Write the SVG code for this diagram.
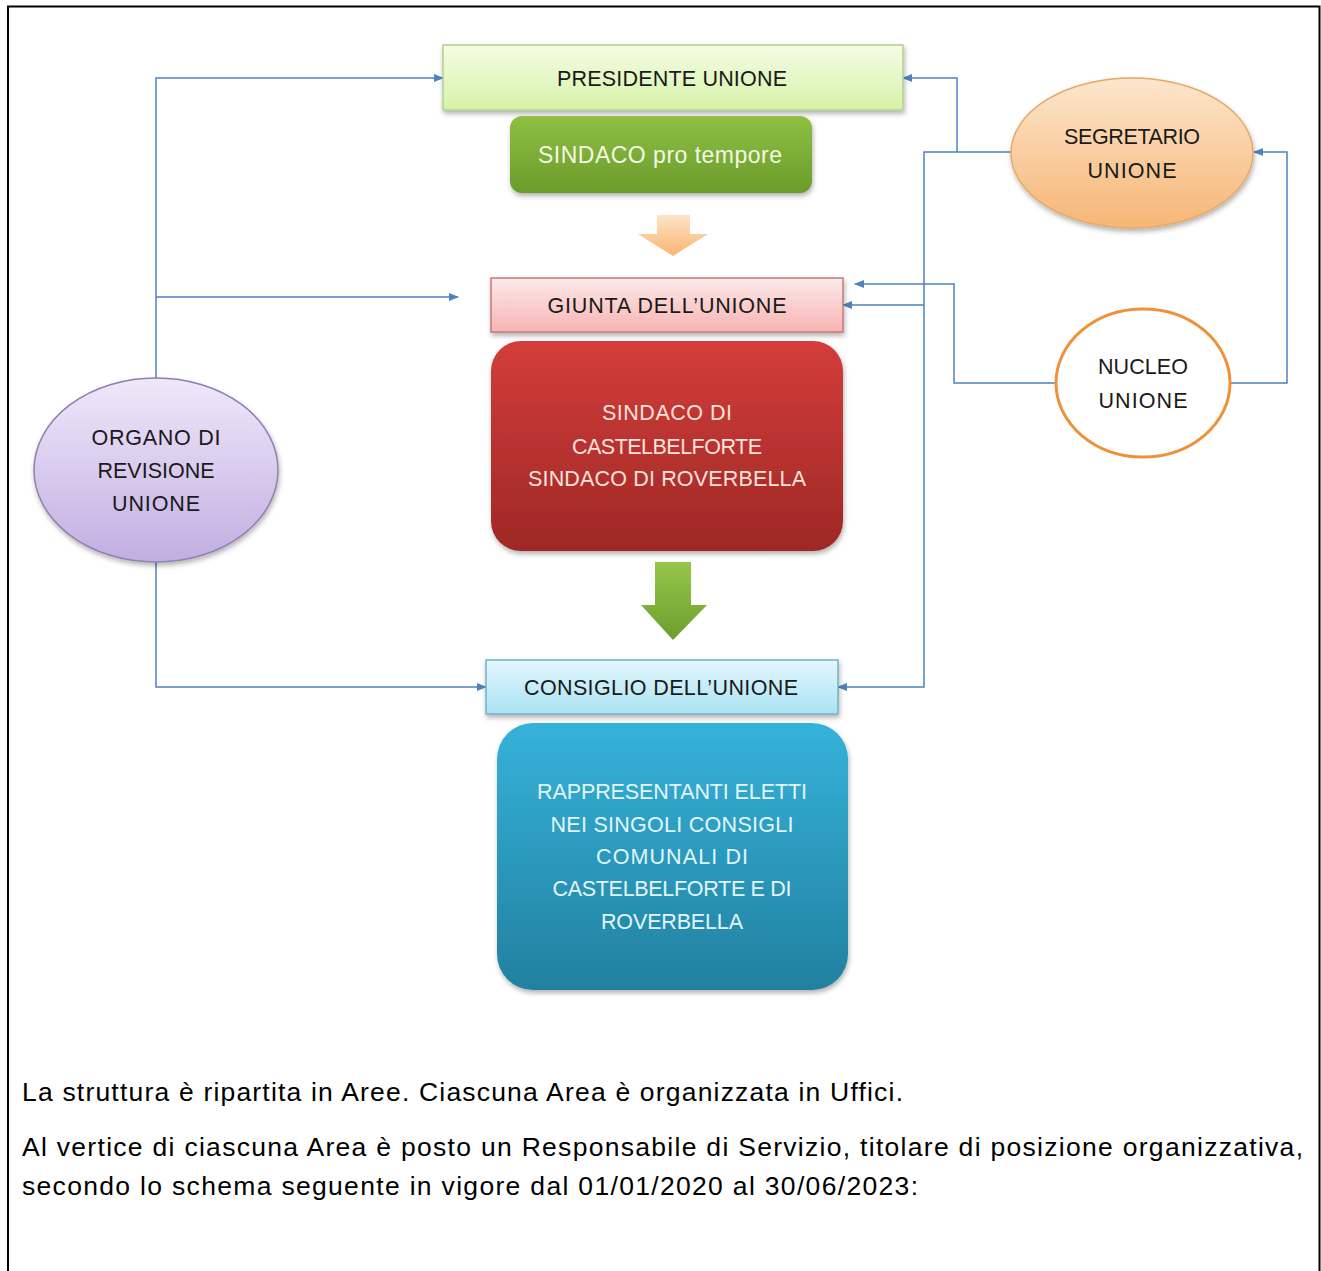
<svg xmlns="http://www.w3.org/2000/svg" width="1321" height="1271" viewBox="0 0 1321 1271">
<defs>
<style>
.t{font-family:"Liberation Sans",Arial,sans-serif;font-size:21.5px;text-anchor:middle}
.dk{fill:#1a1a1a}
.p{font-family:"Liberation Sans",Arial,sans-serif;font-size:26.5px;fill:#000}
.c{fill:none;stroke:#4f81bd;stroke-width:1.5;marker-end:url(#arr)}
</style>
<marker id="arr" markerWidth="10" markerHeight="8" refX="9" refY="4" orient="auto" markerUnits="userSpaceOnUse"><path d="M0,0 L10,4 L0,8 z" fill="#4f81bd"/></marker>
<filter id="sh" x="-10%" y="-10%" width="125%" height="135%"><feDropShadow dx="1" dy="3" stdDeviation="2.5" flood-color="#000" flood-opacity="0.3"/></filter>
<linearGradient id="gPres" x1="0" y1="0" x2="0" y2="1"><stop offset="0" stop-color="#f5fde6"/><stop offset="1" stop-color="#d6f2a8"/></linearGradient>
<linearGradient id="gSind" x1="0" y1="0" x2="0" y2="1"><stop offset="0" stop-color="#8fc043"/><stop offset="1" stop-color="#6b9b2b"/></linearGradient>
<linearGradient id="gOr" x1="0" y1="0" x2="0" y2="1"><stop offset="0" stop-color="#fde4c8"/><stop offset="1" stop-color="#fbb470"/></linearGradient>
<linearGradient id="gGiu" x1="0" y1="0" x2="0" y2="1"><stop offset="0" stop-color="#fdeaea"/><stop offset="1" stop-color="#f6b4b2"/></linearGradient>
<linearGradient id="gRed" x1="0" y1="0" x2="0" y2="1"><stop offset="0" stop-color="#d33d3a"/><stop offset="1" stop-color="#9e2826"/></linearGradient>
<linearGradient id="gGr" x1="0" y1="0" x2="0" y2="1"><stop offset="0" stop-color="#98c64a"/><stop offset="1" stop-color="#6d9d2e"/></linearGradient>
<linearGradient id="gCon" x1="0" y1="0" x2="0" y2="1"><stop offset="0" stop-color="#e4f7fd"/><stop offset="1" stop-color="#a9e3f4"/></linearGradient>
<linearGradient id="gBlu" x1="0" y1="0" x2="0" y2="1"><stop offset="0" stop-color="#35b2da"/><stop offset="1" stop-color="#22809f"/></linearGradient>
<linearGradient id="gSeg" x1="0" y1="0" x2="0" y2="1"><stop offset="0" stop-color="#fde6cc"/><stop offset="1" stop-color="#f6b676"/></linearGradient>
<linearGradient id="gOrg" x1="0" y1="0" x2="0" y2="1"><stop offset="0" stop-color="#f0e8fa"/><stop offset="1" stop-color="#c2aee2"/></linearGradient>
</defs>
<rect width="1321" height="1271" fill="#fff"/>
<path d="M8,1271 V6.5 H1319.5 V1271" fill="none" stroke="#000" stroke-width="2"/>

<g id="connectors">
<path class="c" d="M156,378 V78 H443"/>
<path class="c" d="M156,297 H458"/>
<path class="c" d="M156,562 V687 H486"/>
<path class="c" d="M1012,152 H924 V687 H838"/>
<path class="c" d="M957,152 V78 H903"/>
<path class="c" d="M924,305 H843"/>
<path class="c" d="M1055,383 H954 V284 H855"/>
<path class="c" d="M1231,383 H1287 V152 H1254"/>
</g>

<g id="presidente">
<rect x="443" y="45" width="460" height="65" fill="url(#gPres)" stroke="#b5cf8c" stroke-width="1.5" filter="url(#sh)"/>
<text class="t dk" x="672" y="86" textLength="230">PRESIDENTE UNIONE</text>
</g>
<g id="sindaco-pro-tempore">
<rect x="510" y="116" width="302" height="77" rx="12" fill="url(#gSind)" filter="url(#sh)"/>
<text class="t" x="660" y="163" fill="#f2f9e4" style="font-size:23px" textLength="244">SINDACO pro tempore</text>
</g>
<g id="freccia-arancio">
<polygon points="657,215 690,215 690,234 708,234 673,256 638,234 657,234" fill="url(#gOr)"/>
</g>
<g id="giunta">
<rect x="491" y="278" width="352" height="54" fill="url(#gGiu)" stroke="#c47a78" stroke-width="1.5" filter="url(#sh)"/>
<text class="t dk" x="667" y="313" textLength="239">GIUNTA DELL’UNIONE</text>
</g>
<g id="sindaci">
<rect x="491" y="341" width="352" height="210" rx="30" fill="url(#gRed)" filter="url(#sh)"/>
<text class="t" x="667" y="420" fill="#fde2da" textLength="130">SINDACO DI</text>
<text class="t" x="667" y="454" fill="#fde2da" textLength="190">CASTELBELFORTE</text>
<text class="t" x="667" y="486" fill="#fde2da" textLength="278">SINDACO DI ROVERBELLA</text>
</g>
<g id="freccia-verde">
<polygon points="655,562 691,562 691,605 707,605 673,640 641,605 655,605" fill="url(#gGr)"/>
</g>
<g id="consiglio">
<rect x="486" y="660" width="352" height="54" fill="url(#gCon)" stroke="#72b2c8" stroke-width="1.5" filter="url(#sh)"/>
<text class="t dk" x="661" y="695" textLength="274">CONSIGLIO DELL’UNIONE</text>
</g>
<g id="rappresentanti">
<rect x="497" y="723" width="351" height="267" rx="36" fill="url(#gBlu)" filter="url(#sh)"/>
<text class="t" x="672" y="799" fill="#e2f5fb" textLength="270">RAPPRESENTANTI ELETTI</text>
<text class="t" x="672" y="832" fill="#e2f5fb" textLength="243">NEI SINGOLI CONSIGLI</text>
<text class="t" x="672" y="864" fill="#e2f5fb" textLength="152">COMUNALI DI</text>
<text class="t" x="672" y="896" fill="#e2f5fb" textLength="239">CASTELBELFORTE E DI</text>
<text class="t" x="672" y="929" fill="#e2f5fb" textLength="142">ROVERBELLA</text>
</g>
<g id="segretario">
<ellipse cx="1132" cy="153" rx="121" ry="75" fill="url(#gSeg)" stroke="#e6a866" stroke-width="1.5" filter="url(#sh)"/>
<text class="t dk" x="1132" y="144" textLength="136">SEGRETARIO</text>
<text class="t dk" x="1132" y="178" textLength="89">UNIONE</text>
</g>
<g id="nucleo">
<ellipse cx="1143" cy="383" rx="87" ry="74" fill="#fff" stroke="#f0913a" stroke-width="3"/>
<text class="t dk" x="1143" y="374" textLength="90">NUCLEO</text>
<text class="t dk" x="1143" y="408" textLength="89">UNIONE</text>
</g>
<g id="organo">
<ellipse cx="156" cy="470" rx="122" ry="92" fill="url(#gOrg)" stroke="#8f80b0" stroke-width="1.5" filter="url(#sh)"/>
<text class="t dk" x="156" y="445" textLength="129">ORGANO DI</text>
<text class="t dk" x="156" y="478" textLength="117">REVISIONE</text>
<text class="t dk" x="156" y="511" textLength="88">UNIONE</text>
</g>

<g id="testo">
<text class="p" x="22" y="1101" textLength="881">La struttura è ripartita in Aree. Ciascuna Area è organizzata in Uffici.</text>
<text class="p" x="22" y="1156" textLength="1281">Al vertice di ciascuna Area è posto un Responsabile di Servizio, titolare di posizione organizzativa,</text>
<text class="p" x="22" y="1195" textLength="896">secondo lo schema seguente in vigore dal 01/01/2020 al 30/06/2023:</text>
</g>
</svg>
